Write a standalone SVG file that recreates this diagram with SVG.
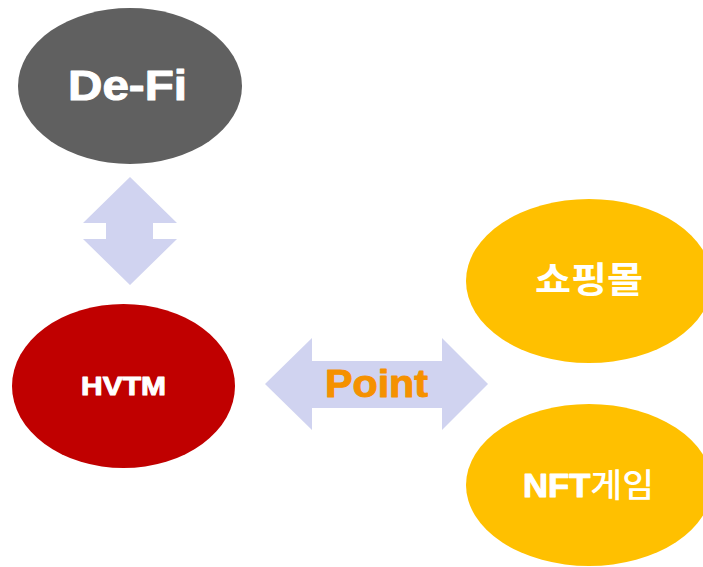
<svg xmlns="http://www.w3.org/2000/svg" width="703" height="567" viewBox="0 0 703 567">
<style>
.lbl{font-family:"Liberation Sans","Noto Sans CJK KR",Arial,sans-serif;font-weight:bold;fill:#FFFFFF;text-anchor:middle}
.heavy{stroke:#FFFFFF;stroke-width:1;stroke-linejoin:round}
.kr{font-family:"Noto Sans CJK KR","Liberation Sans",sans-serif}
.arrow{fill:#D0D3F0}
</style>
<rect width="703" height="567" fill="#FFFFFF"/>
<g id="connectors">
<polygon class="arrow" points="130,177 177,223 153,223 153,239 177,239 130,285 83,239 106,239 106,223 83,223"/>
<polygon class="arrow" points="265,384 312,338 312,361 442,361 442,338 488,384 442,430 442,408 312,408 312,430"/>
<text x="376.5" y="397" font-family="Liberation Sans, Arial, sans-serif" font-weight="bold" font-size="38" fill="#F59100" stroke="#F59100" stroke-width="1" stroke-linejoin="round" text-anchor="middle" textLength="103" lengthAdjust="spacingAndGlyphs">Point</text>
</g>
<g id="defi">
<ellipse cx="130" cy="86" rx="112" ry="78" fill="#606060"/>
<text class="lbl heavy" x="127.5" y="100" font-size="42" textLength="119" lengthAdjust="spacingAndGlyphs">De-Fi</text>
</g>
<g id="hvtm">
<ellipse cx="123.5" cy="386" rx="111.5" ry="82" fill="#C00000"/>
<text class="lbl heavy" x="123.5" y="395" font-size="26.5" stroke-width="0.7" textLength="85" lengthAdjust="spacingAndGlyphs">HVTM</text>
</g>
<g id="shop">
<ellipse cx="589" cy="281" rx="123" ry="82" fill="#FFC000"/>
<text class="lbl kr" x="589" y="293" font-size="36" textLength="108" lengthAdjust="spacingAndGlyphs">쇼핑몰</text>
</g>
<g id="nft">
<ellipse cx="589" cy="485" rx="123" ry="81" fill="#FFC000"/>
<text class="lbl" x="588.5" y="497" font-size="33" textLength="131" lengthAdjust="spacingAndGlyphs"><tspan class="heavy">NFT</tspan><tspan class="kr" font-weight="500">게임</tspan></text>
</g>
</svg>
